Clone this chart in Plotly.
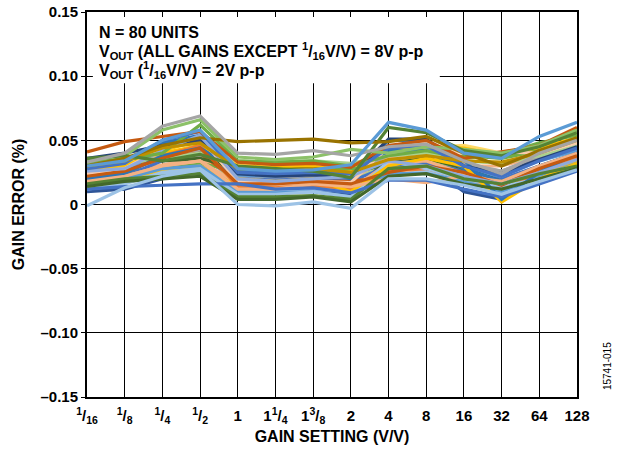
import plotly.graph_objects as go

# Gain settings (categories) and tick labels
gain_labels = ["<sup>1</sup>/<sub>16</sub>", "<sup>1</sup>/<sub>8</sub>", "<sup>1</sup>/<sub>4</sub>",
               "<sup>1</sup>/<sub>2</sub>", "1", "1<sup>1</sup>/<sub>4</sub>", "1<sup>3</sup>/<sub>8</sub>",
               "2", "4", "8", "16", "32", "64", "128"]
gain_pos = list(range(len(gain_labels)))

y_ticks = [0.15, 0.10, 0.05, 0, -0.05, -0.10, -0.15]
y_tick_text = ["0.15", "0.10", "0.05", "0", "–0.05", "–0.10", "–0.15"]

# Gain error (%) per unit
u01 = [0.024, 0.027, 0.035, 0.038, 0.018, 0.017, 0.019, 0.016, 0.038, 0.040, 0.030, 0.026, 0.036, 0.046]
u02 = [0.020, 0.026, 0.022, 0.030, 0.020, 0.018, 0.020, 0.018, 0.034, 0.036, 0.025, 0.018, 0.028, 0.036]
u03 = [0.028, 0.030, 0.038, 0.044, 0.032, 0.031, 0.032, 0.030, 0.040, 0.044, 0.046, 0.040, 0.044, 0.052]
u04 = [0.010, 0.012, 0.020, 0.034, 0.012, 0.010, 0.011, 0.008, 0.036, 0.032, 0.010, 0.004, 0.020, 0.030]
u05 = [0.022, 0.024, 0.031, 0.036, 0.022, 0.020, 0.022, 0.020, 0.036, 0.036, 0.030, 0.030, 0.038, 0.046]
u06 = [0.026, 0.028, 0.038, 0.042, 0.022, 0.021, 0.022, 0.020, 0.040, 0.044, 0.032, 0.026, 0.038, 0.044]
u07 = [0.032, 0.034, 0.040, 0.046, 0.030, 0.029, 0.030, 0.026, 0.042, 0.045, 0.044, 0.038, 0.044, 0.052]
u08 = [0.024, 0.026, 0.028, 0.032, 0.026, 0.025, 0.026, 0.028, 0.030, 0.032, 0.038, 0.036, 0.042, 0.050]
u09 = [0.018, 0.022, 0.034, 0.040, 0.020, 0.019, 0.020, 0.018, 0.030, 0.032, 0.026, 0.020, 0.030, 0.040]
u10 = [0.024, 0.028, 0.036, 0.040, 0.018, 0.017, 0.018, 0.018, 0.022, 0.026, 0.022, 0.012, 0.026, 0.034]
u11 = [0.022, 0.024, 0.046, 0.050, 0.023, 0.022, 0.024, 0.022, 0.046, 0.045, 0.028, 0.022, 0.034, 0.042]
u12 = [0.034, 0.037, 0.034, 0.036, 0.028, 0.027, 0.028, 0.024, 0.032, 0.036, 0.028, 0.018, 0.028, 0.036]
u13 = [0.020, 0.022, 0.030, 0.034, 0.016, 0.014, 0.016, 0.012, 0.032, 0.034, 0.024, 0.018, 0.028, 0.038]
u14 = [0.030, 0.033, 0.048, 0.054, 0.024, 0.023, 0.024, 0.022, 0.042, 0.042, 0.028, 0.018, 0.030, 0.040]
u15 = [0.028, 0.032, 0.036, 0.040, 0.034, 0.033, 0.034, 0.032, 0.038, 0.040, 0.034, 0.032, 0.038, 0.046]
u16 = [0.018, 0.020, 0.026, 0.030, 0.014, 0.012, 0.014, 0.010, 0.028, 0.030, 0.020, 0.014, 0.022, 0.034]
u17 = [0.016, 0.018, 0.024, 0.026, 0.010, 0.010, 0.012, 0.010, 0.028, 0.026, 0.018, 0.012, 0.018, 0.028]
u18 = [0.020, 0.024, 0.038, 0.046, 0.014, 0.013, 0.015, 0.012, 0.026, 0.028, 0.020, 0.010, 0.026, 0.036]
u19 = [0.015, 0.020, 0.028, 0.030, 0.010, 0.009, 0.010, 0.006, 0.024, 0.024, 0.018, 0.010, 0.022, 0.032]
u20 = [0.012, 0.016, 0.025, 0.028, 0.008, 0.008, 0.010, 0.006, 0.034, 0.028, 0.020, 0.014, 0.020, 0.030]
u21 = [0.026, 0.030, 0.042, 0.050, 0.020, 0.018, 0.020, 0.010, 0.030, 0.036, 0.030, 0.002, 0.020, 0.032]
u22 = [0.020, 0.024, 0.038, 0.044, 0.026, 0.024, 0.026, 0.020, 0.050, 0.050, 0.035, 0.004, 0.025, 0.040]
u23 = [0.018, 0.022, 0.030, 0.034, 0.012, 0.012, 0.016, 0.014, 0.020, 0.017, 0.022, 0.018, 0.030, 0.040]
u24 = [0.024, 0.028, 0.044, 0.052, 0.018, 0.016, 0.018, 0.017, 0.045, 0.048, 0.040, 0.041, 0.040, 0.048]
u25 = [0.036, 0.040, 0.046, 0.050, 0.024, 0.022, 0.023, 0.022, 0.051, 0.051, 0.030, 0.024, 0.035, 0.045]
u26 = [0.022, 0.026, 0.036, 0.044, 0.016, 0.016, 0.018, 0.016, 0.025, 0.030, 0.025, 0.015, 0.028, 0.038]
u27 = [0.026, 0.028, 0.042, 0.054, 0.020, 0.018, 0.020, 0.022, 0.034, 0.030, 0.022, 0.016, 0.025, 0.035]
u28 = [0.032, 0.035, 0.040, 0.062, 0.034, 0.033, 0.034, 0.030, 0.038, 0.042, 0.036, 0.039, 0.048, 0.054]
u29 = [0.028, 0.032, 0.050, 0.057, 0.025, 0.024, 0.025, 0.024, 0.044, 0.046, 0.030, 0.022, 0.034, 0.044]
u30 = [0.030, 0.034, 0.044, 0.048, 0.028, 0.027, 0.028, 0.025, 0.035, 0.038, 0.034, 0.033, 0.040, 0.050]
u31 = [0.016, 0.020, 0.022, 0.024, 0.006, 0.006, 0.007, 0.004, 0.028, 0.030, 0.020, 0.016, 0.024, 0.030]
u32 = [0.012, 0.014, 0.015, 0.016, 0.016, 0.012, 0.013, 0.009, 0.019, 0.019, 0.012, 0.006, 0.016, 0.026]
u33 = [0.014, 0.018, 0.020, 0.022, 0.004, 0.004, 0.006, 0.002, 0.022, 0.024, 0.016, 0.012, 0.020, 0.028]
u34 = [0.041, 0.049, 0.053, 0.057, 0.033, 0.031, 0.032, 0.029, 0.046, 0.050, 0.036, 0.041, 0.046, 0.060]
u35 = [0.034, 0.038, 0.058, 0.066, 0.037, 0.035, 0.037, 0.043, 0.040, 0.045, 0.043, 0.040, 0.046, 0.058]
u36 = [0.036, 0.038, 0.034, 0.039, 0.030, 0.028, 0.026, 0.021, 0.060, 0.056, 0.042, 0.038, 0.045, 0.056]
u37 = [0.030, 0.036, 0.046, 0.052, 0.049, 0.050, 0.051, 0.048, 0.049, 0.053, 0.040, 0.030, 0.042, 0.052]
u38 = [0.033, 0.040, 0.061, 0.069, 0.040, 0.039, 0.042, 0.038, 0.045, 0.047, 0.034, 0.024, 0.040, 0.050]
u39 = [0.030, 0.034, 0.050, 0.058, 0.028, 0.026, 0.027, 0.031, 0.064, 0.058, 0.040, 0.036, 0.053, 0.064]
u40 = [-0.001, 0.013, 0.022, 0.027, 0.000, -0.001, 0.002, -0.003, 0.020, 0.020, 0.015, 0.008, 0.018, 0.027]

units = [u01, u02, u03, u04, u05, u06, u07, u08, u09, u10,
         u11, u12, u13, u14, u15, u16, u17, u18, u19, u20,
         u21, u22, u23, u24, u25, u26, u27, u28, u29, u30,
         u31, u32, u33, u34, u35, u36, u37, u38, u39, u40]

unit_colors = ["#A5A5A5", "#A9D18E", "#FFD966", "#2F5597", "#F4B183", "#A5A5A5", "#FFC000", "#70AD47",
               "#4472C4", "#C55A11", "#5B9BD5", "#43682B", "#F4B183", "#2E75B6", "#A9D18E", "#FFC000",
               "#9DC3E6", "#ED7D31", "#5B9BD5", "#9DC3E6", "#FFC000", "#2E75B6", "#F4B183", "#F8CBAD",
               "#264478", "#C55A11", "#8FAADC", "#70AD47", "#4472C4", "#BF9000", "#548235", "#4472C4",
               "#43682B", "#C55A11", "#8CC168", "#548235", "#997300", "#A5A5A5", "#5B9BD5", "#9DC3E6"]

fig = go.Figure()
for vals, col in zip(units, unit_colors):
    fig.add_trace(go.Scatter(x=gain_pos, y=vals, mode="lines",
                             line=dict(color=col, width=3.2), showlegend=False,
                             hoverinfo="skip"))

font_family = "Liberation Sans, Arial, sans-serif"

fig.update_layout(
    width=621, height=450,
    margin=dict(l=87, r=44, t=12, b=53, autoexpand=False),
    paper_bgcolor="white", plot_bgcolor="white",
    font=dict(family=font_family, color="black", size=14),
    showlegend=False,
)

fig.update_xaxes(
    range=[0, 13], tickmode="array", tickvals=gain_pos, ticktext=gain_labels,
    showgrid=True, gridcolor="black", gridwidth=1.3,
    showline=True, linecolor="black", linewidth=2, mirror=True,
    ticks="", zeroline=False, automargin=False, ticklabeloverflow="allow",
    ticklabelstandoff=4,
    tickfont=dict(size=15, weight="bold"),
    title=dict(text="GAIN SETTING (V/V)", font=dict(size=16, weight="bold"), standoff=6),
)
fig.update_yaxes(
    range=[-0.15, 0.15], tickmode="array", tickvals=y_ticks, ticktext=y_tick_text,
    showgrid=True, gridcolor="black", gridwidth=1.3,
    showline=True, linecolor="black", linewidth=2, mirror=True,
    ticks="outside", ticklen=4, tickcolor="black", tickwidth=1.3,
    zeroline=False, automargin=False, ticklabeloverflow="allow",
    tickfont=dict(size=15, weight="bold"),
    title=dict(text="GAIN ERROR (%)", font=dict(size=16, weight="bold"), standoff=12),
)

# White box behind the notes (covers the grid)
fig.add_shape(type="rect", xref="paper", yref="paper",
              x0=0.012, x1=0.72, y0=0.815, y1=0.987,
              fillcolor="white", line=dict(width=0), layer="above")

notes = ["N = 80 UNITS",
         "V<sub>OUT</sub> (ALL GAINS EXCEPT <sup>1</sup>/<sub>16</sub>V/V) = 8V p-p",
         "V<sub>OUT</sub> (<sup>1</sup>/<sub>16</sub>V/V) = 2V p-p"]
note_y = [0.948, 0.899, 0.849]
for txt, yy in zip(notes, note_y):
    fig.add_annotation(text=txt, xref="paper", yref="paper", x=0.02, y=yy,
                       xanchor="left", yanchor="middle", showarrow=False,
                       font=dict(size=16, weight="bold", family=font_family))

fig.add_annotation(text="15741-015", xref="paper", yref="paper", x=1.061, y=0.08,
                   xanchor="center", yanchor="middle", showarrow=False, textangle=-90,
                   font=dict(size=10, family=font_family))

fig.write_html("out.html", config={"displayModeBar": False},
               post_script="document.body.style.margin='0';")
